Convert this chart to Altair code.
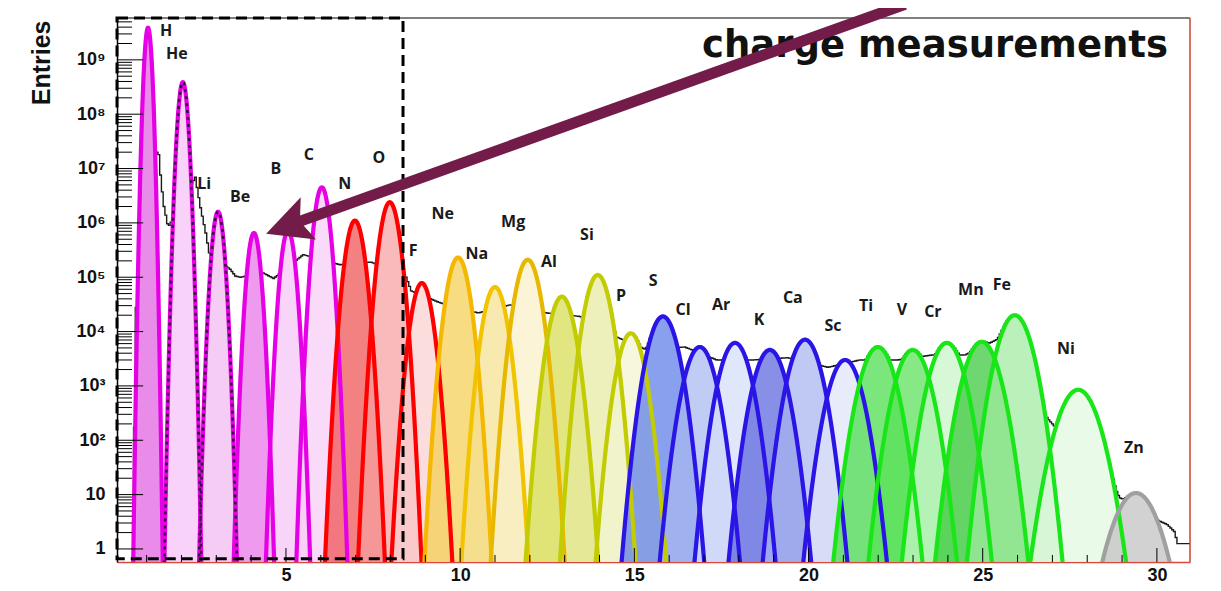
import numpy as np
import pandas as pd
import altair as alt

# ---------------- data ----------------
elements = ["H", "He", "Li", "Be", "B", "C", "N", "O", "F", "Ne", "Na", "Mg", "Al", "Si",
            "P", "S", "Cl", "Ar", "K", "Ca", "Sc", "Ti", "V", "Cr", "Mn", "Fe", "Ni", "Zn"]
peak_charge = [1.04, 2.04, 3.05, 4.08, 5.06, 6.03, 6.98, 7.98, 8.9, 9.94, 11.0, 11.94, 12.92, 13.95,
               14.9, 15.82, 16.88, 17.89, 18.89, 19.9, 21.05, 21.99, 22.99, 23.97, 24.97, 25.92, 27.74, 29.4]
peak_entries = [3.9e9, 3.9e8, 1.6e6, 6.5e5, 7.2e5, 4.5e6, 1.1e6, 2.4e6, 7.8e4, 2.3e5, 6.6e4, 2.1e5, 4.4e4, 1.1e5,
                9.3e3, 1.9e4, 5.2e3, 6.2e3, 4.6e3, 7.1e3, 3.0e3, 5.2e3, 4.6e3, 6.2e3, 6.5e3, 2.0e4, 850, 10.7]
peak_sigma = [0.063, 0.083, 0.10, 0.11, 0.12, 0.13, 0.16, 0.165, 0.18, 0.19, 0.20, 0.21, 0.22, 0.22,
              0.23, 0.26, 0.27, 0.27, 0.28, 0.28, 0.29, 0.30, 0.30, 0.30, 0.31, 0.30, 0.36, 0.40]
stroke_colors = ["#e600e6"] * 6 + ["#ff0000"] * 3 + ["#f5b800", "#f2c400", "#e8b800"] + \
                ["#c2cc00"] * 3 + ["#2a14e6"] * 6 + ["#19e619"] * 6 + ["#a0a0a0"]
fill_colors = ["#e060e0", "#f5c0f5", "#f0b8f0", "#e873e8", "#f5c5f5", "#f7cdf7",
               "#f05050", "#f5a0a0", "#fbd0d0",
               "#f5cf50", "#f5e090", "#faf0c8",
               "#d6dc50", "#e6eaa0", "#f2f4d0",
               "#5a7be6", "#a8b8f0", "#d5def8", "#5a64dc", "#a8b4f0", "#dfe4f8",
               "#48dc48", "#58e058", "#c8f5c8", "#38c838", "#a0eca0", "#e0f8e0",
               "#c0c0c0"]
dotted_elements = ["He", "Li"]

label_charge = [1.56, 1.87, 2.65, 3.68, 4.71, 5.66, 6.69, 7.67, 8.65, 9.5, 10.48, 11.52, 12.55, 13.64,
                14.62, 15.54, 16.4, 17.49, 18.58, 19.55, 20.7, 21.65, 22.68, 23.57, 24.66, 25.55, 27.39, 29.34]
label_entries = [3.4e9, 1.3e9, 5.2e6, 3.0e6, 1.0e7, 1.8e7, 5.2e6, 1.55e7, 3.0e5, 1.45e6, 2.7e5, 1.05e6,
                 1.9e5, 6.0e5, 4.5e4, 8.5e4, 2.5e4, 3.1e4, 1.6e4, 4.2e4, 1.25e4, 2.95e4, 2.5e4, 2.3e4,
                 5.9e4, 7.2e4, 4.8e3, 72]

# black data histogram: background level in the tails / valleys
bg_charge = [0.62, 0.67, 0.8, 1.25, 1.35, 1.42, 1.5, 1.62, 2.4, 2.55, 2.7, 2.8, 3.4, 3.55, 3.7, 4.35, 4.65,
             5.5, 6.55, 7.45, 8.45, 8.6, 9.42, 10.52, 11.43, 12.49, 13.44, 14.5, 15.36, 16.45, 17.37, 18.4,
             19.4, 20.56, 21.47, 22.54, 23.54, 24.49, 25.4, 26.87, 28.94, 30.3, 30.5, 30.6, 30.95]
bg_entries = [0.1, 2.5e4, 4.0e4, 2.2e7, 1.8e7, 5.4e6, 2.0e6, 8.3e5, 6.9e6, 1.9e6, 6.5e5, 2.8e5, 1.4e5, 1.05e5,
              1.0e5, 1.2e5, 9.5e4, 2.6e5, 1.7e5, 1.9e5, 1.0e5, 5.6e4, 3.4e4, 2.2e4, 3.1e4, 2.2e4, 1.9e4,
              7.9e3, 4.6e3, 5.2e3, 3.0e3, 3.0e3, 3.3e3, 2.2e3, 3.0e3, 3.0e3, 3.7e3, 3.7e3, 7.1e3, 250,
              7.2, 2.8, 2.1, 1.25, 1.25]

x_major = [5, 10, 15, 20, 25, 30]
x_minor = [v for v in range(1, 31) if v % 5 != 0]
y_major = [1, 10, 1e2, 1e3, 1e4, 1e5, 1e6, 1e7, 1e8, 1e9]
y_minor = [k * 10.0 ** n for n in range(0, 10) for k in range(2, 10) if k * 10.0 ** n < 5.8e9]

title_text = "charge measurements"
title_pos = [30.32, 1.12e9]
box_charge = [0.15, 8.36]
box_entries = [0.66, 5.89e9]
arrow_tail = [22.77, 1.05e10]
arrow_neck = [5.235, 9.8e5]
arrow_tip = [4.43, 6.3e5]

# ---------------- scales / axes ----------------
X_MIN, X_MAX = 0.15, 30.95
Y_MIN, Y_MAX = 0.575, 5.89e9
FLOOR = 0.4

keys = [f"{i + 1:02d} {e}" for i, e in enumerate(elements)]

xscale = alt.Scale(domain=[X_MIN, X_MAX], nice=False, zero=False)
yscale = alt.Scale(type="log", domain=[Y_MIN, Y_MAX], nice=False)

sup = "['','','²','³','⁴','⁵','⁶','⁷','⁸','⁹']"
xaxis = alt.Axis(values=x_major, format="d", ticks=False, grid=False, title=None,
                 domainColor="#d9483a", domainWidth=1.5, labelFont="Liberation Sans",
                 labelFontWeight="bold", labelFontSize=18, labelColor="#111", labelPadding=4)
yaxis = alt.Axis(values=y_major, ticks=False, grid=False,
                 labelExpr="datum.value < 5 ? '1' : (datum.value < 50 ? '10' : '10' + " + sup +
                           "[round(log(datum.value) / LN10)])",
                 domainColor="black", domainWidth=1.5, labelFont="Liberation Sans",
                 labelFontWeight="bold", labelFontSize=18, labelColor="#111", labelPadding=12,
                 title="Entries", titleFont="Liberation Sans", titleFontWeight="bold",
                 titleFontSize=25, titleColor="#111", titleAngle=270, titleAlign="right",
                 titleBaseline="bottom", titleX=-63, titleY=2)


def X(f):
    return alt.X(f, type="quantitative", scale=xscale, axis=xaxis)


def Y(f):
    return alt.Y(f, type="quantitative", scale=yscale, axis=yaxis)


# ---------------- build tables ----------------
rows = []
for k, mu, a, s in zip(keys, peak_charge, peak_entries, peak_sigma):
    half = s * np.sqrt(2 * np.log(a / FLOOR))
    xs = np.linspace(mu - half, mu + half, 181)
    ys = np.maximum(a * np.exp(-(xs - mu) ** 2 / (2 * s * s)), FLOOR)
    for xv, yv in zip(xs, ys):
        rows.append((k, float(xv), float(yv), FLOOR))
curves = pd.DataFrame(rows, columns=["key", "charge", "entries", "base"])
dotted = curves[curves["key"].isin([keys[elements.index(e)] for e in dotted_elements])]

bins = np.round(np.arange(0.6, 30.951, 0.05), 3)
total = np.zeros_like(bins)
for mu, a, s in zip(peak_charge, peak_entries, peak_sigma):
    total += a * np.exp(-(bins - mu) ** 2 / (2 * s * s))
bg = 10 ** np.interp(bins, bg_charge, np.log10(bg_entries))
hist = pd.DataFrame({"charge": bins, "entries": np.maximum(np.maximum(total, bg), FLOOR)})

labels = pd.DataFrame({"name": elements, "charge": label_charge, "entries": label_entries})

ytick = pd.DataFrame({"entries": y_major + y_minor,
                      "x0": X_MIN,
                      "x1": [0.9] * len(y_major) + [0.58] * len(y_minor)})
xtick = pd.DataFrame({"charge": x_major + x_minor,
                      "y0": Y_MIN,
                      "y1": [1.04] * len(x_major) + [0.775] * len(x_minor)})

frame_top = pd.DataFrame({"x0": [X_MIN], "x1": [X_MAX], "entries": [Y_MAX]})
frame_right = pd.DataFrame({"charge": [X_MAX], "y0": [Y_MIN], "y1": [Y_MAX]})
box = pd.DataFrame({"x0": [box_charge[0]], "x1": [box_charge[1]],
                    "y0": [box_entries[0]], "y1": [box_entries[1]]})
title_df = pd.DataFrame({"charge": [title_pos[0]], "entries": [title_pos[1]], "t": [title_text]})
shaft = pd.DataFrame({"x0": [arrow_tail[0]], "x1": [arrow_neck[0]],
                      "y0": [arrow_tail[1]], "y1": [arrow_neck[1]]})
head = pd.DataFrame({"charge": [arrow_tip[0]], "entries": [arrow_tip[1]]})

ARROW = "#731c4a"

# ---------------- layers ----------------
areas = alt.Chart(curves).mark_area(clip=True, fillOpacity=0.72, strokeWidth=0).encode(
    x=X("charge"), y=Y("entries"), y2="base",
    fill=alt.Fill("key:N", scale=alt.Scale(domain=keys, range=fill_colors), legend=None),
)
hist_line = alt.Chart(hist).mark_line(clip=True, interpolate="step", color="#1a1a1a",
                                      strokeWidth=1.4).encode(x=X("charge"), y=Y("entries"))
lines = alt.Chart(curves).mark_line(clip=True, strokeWidth=4.2).encode(
    x=X("charge"), y=Y("entries"),
    stroke=alt.Stroke("key:N", scale=alt.Scale(domain=keys, range=stroke_colors), legend=None),
)
dots = alt.Chart(dotted).mark_line(clip=True, strokeWidth=2.6, strokeDash=[3, 4],
                                   color="#3c0a46").encode(
    x=X("charge"), y=Y("entries"), detail="key:N")

yticks = alt.Chart(ytick).mark_rule(color="black", strokeWidth=1).encode(
    x=X("x0"), x2="x1", y=Y("entries"))
xticks = alt.Chart(xtick).mark_rule(color="black", strokeWidth=1).encode(
    x=X("charge"), y=Y("y0"), y2="y1")

ftop = alt.Chart(frame_top).mark_rule(color="#555555", strokeWidth=1.5).encode(
    x=X("x0"), x2="x1", y=Y("entries"))
fright = alt.Chart(frame_right).mark_rule(color="#c8402f", strokeWidth=1.5).encode(
    x=X("charge"), y=Y("y0"), y2="y1")

text = alt.Chart(labels).mark_text(font="Open Sans", fontWeight="bold", fontSize=16,
                                   color="#1a1a1a", align="center", baseline="middle").encode(
    x=X("charge"), y=Y("entries"), text="name:N")

rect = alt.Chart(box).mark_rect(filled=False, stroke="black", strokeWidth=3,
                                strokeDash=[11, 6], clip=False).encode(
    x=X("x0"), x2="x1", y=Y("y0"), y2="y1")

title = alt.Chart(title_df).mark_text(font="DejaVu Sans", fontWeight="bold", fontSize=37,
                                      color="#111", align="right", baseline="alphabetic").encode(
    x=X("charge"), y=Y("entries"), text="t:N")

arrow_shaft = alt.Chart(shaft).mark_rule(color=ARROW, strokeWidth=11, clip=False,
                                         strokeCap="butt").encode(
    x=X("x0"), x2="x1", y=Y("y0"), y2="y1")
arrow_head = alt.Chart(head).mark_point(shape="M0,0L1.0,2L0,1.6L-1.0,2Z", filled=True,
                                        size=2025, angle=250, color=ARROW, opacity=1,
                                        strokeWidth=0, clip=False).encode(
    x=X("charge"), y=Y("entries"))

chart = alt.layer(
    areas, hist_line, lines, dots, yticks, xticks, ftop, fright, text, rect, title,
    arrow_shaft, arrow_head
).properties(
    width=1073, height=544,
    padding={"left": 109, "top": 10, "right": 23, "bottom": 21},
    autosize=alt.AutoSizeParams(type="none"),
    background="white",
).configure_view(stroke=None)

chart.save("out.html", embed_options={"renderer": "svg", "actions": False})
